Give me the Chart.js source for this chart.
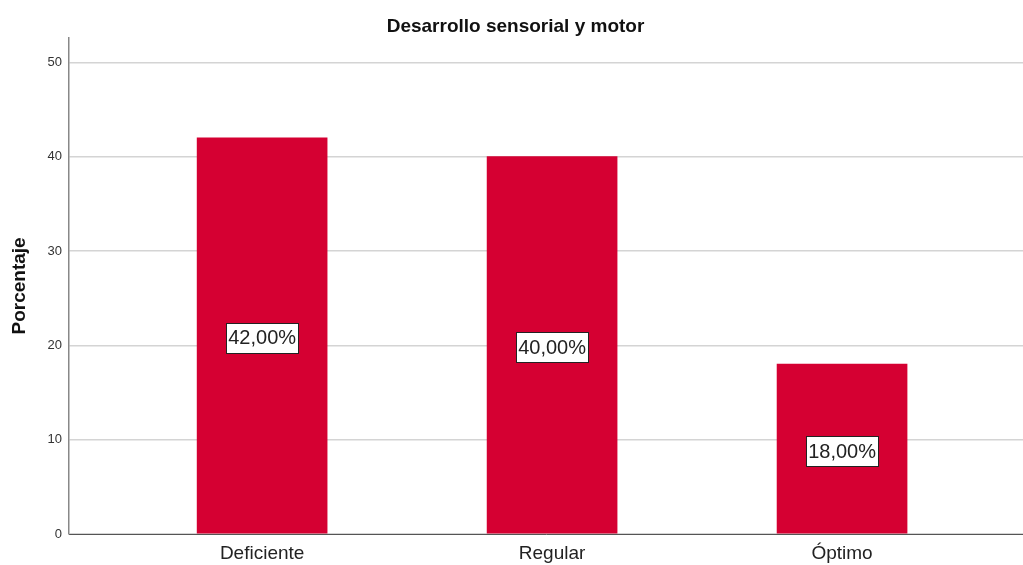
<!DOCTYPE html>
<html>
<head>
<meta charset="utf-8">
<script src="https://cdn.jsdelivr.net/npm/chart.js@4"></script>
<style>
  html, body { margin: 0; padding: 0; background: #fff; }
  #wrap { width: 1023px; height: 565px; }
</style>
</head>
<body>
<div id="wrap"><canvas id="chart" width="1023" height="565"></canvas></div>
<script>
// Desarrollo sensorial y motor - porcentaje por nivel
const categories = ['Deficiente', 'Regular', 'Óptimo'];
const percentages = [42, 40, 18];
const yTicks = [0, 10, 20, 30, 40, 50];

const barColor = '#d50032';
const FONT = '"Liberation Sans", Arial, sans-serif';

// value boxes in the middle of each bar
const valueBoxes = {
  id: 'valueBoxes',
  afterDatasetsDraw(chart) {
    const ctx = chart.ctx;
    const y = chart.scales.y;
    const meta = chart.getDatasetMeta(0);
    ctx.save();
    ctx.font = '20px ' + FONT;
    ctx.textAlign = 'center';
    ctx.textBaseline = 'middle';
    meta.data.forEach((bar, i) => {
      const v = percentages[i];
      const txt = v.toFixed(2).replace('.', ',') + '%';
      const cy = y.getPixelForValue(v / 2) + 2;
      const w = Math.round(ctx.measureText(txt).width + 4);
      const h = 30;
      const bx = Math.round(bar.x - w / 2) + 0.5;
      const by = Math.round(cy - h / 2) + 0.5;
      ctx.fillStyle = '#fff';
      ctx.fillRect(bx, by, w, h);
      ctx.strokeStyle = '#222';
      ctx.lineWidth = 1;
      ctx.strokeRect(bx, by, w, h);
      ctx.fillStyle = '#222';
      ctx.fillText(txt, bar.x, cy + 1);
    });
    ctx.restore();
  }
};

new Chart(document.getElementById('chart'), {
  type: 'bar',
  data: {
    datasets: [{
      data: categories.map((c, i) => ({ x: i, y: percentages[i] })),
      backgroundColor: barColor,
      barThickness: 130
    }]
  },
  options: {
    responsive: false,
    animation: false,
    layout: { padding: { left: 8, right: 0, top: 0, bottom: 0 } },
    plugins: {
      legend: { display: false },
      tooltip: { enabled: false },
      title: {
        display: true,
        text: 'Desarrollo sensorial y motor',
        color: '#111',
        font: { family: FONT, size: 19, weight: 'bold' },
        padding: { top: 15, bottom: 0 }
      }
    },
    scales: {
      x: {
        type: 'linear',
        offset: false,
        min: -0.666,
        max: 2.624,
        afterBuildTicks: s => { s.ticks = categories.map((c, i) => ({ value: i })); },
        afterFit: s => { s.height = 31; },
        grid: { display: false, drawTicks: false, offset: false },
        border: { display: true, color: '#555', width: 1 },
        ticks: {
          padding: 8,
          color: '#222',
          font: { family: FONT, size: 19 },
          callback: v => categories[v]
        }
      },
      y: {
        min: 0,
        max: 52.6,
        afterBuildTicks: s => { s.ticks = yTicks.map(v => ({ value: v })); },
        afterFit: s => { s.width = 61; },
        grid: { color: '#d4d4d4', lineWidth: 1.5, drawTicks: false },
        border: { display: true, color: '#888', width: 1.5 },
        title: {
          display: true,
          text: 'Porcentaje',
          color: '#111',
          font: { family: FONT, size: 19, weight: 'bold' },
          padding: { top: 0, bottom: 0 }
        },
        ticks: {
          padding: 7,
          color: '#333',
          font: { family: FONT, size: 13 }
        }
      }
    }
  },
  plugins: [valueBoxes]
});
</script>
</body>
</html>
